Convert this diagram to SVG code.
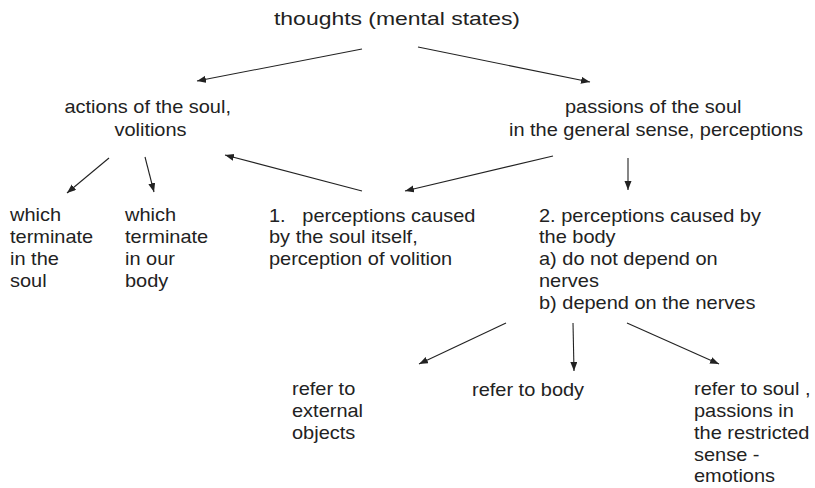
<svg xmlns="http://www.w3.org/2000/svg" width="815" height="488" viewBox="0 0 815 488">
  <style>
    text { font-family: "Liberation Sans", Arial, sans-serif; font-size: 18px; fill: #222; }
    .c { stroke: #222; stroke-width: 1.1; fill: none; marker-end: url(#ah); }
  </style>
  <defs>
    <marker id="ah" markerUnits="userSpaceOnUse" markerWidth="10" markerHeight="8" refX="9" refY="3.5" orient="auto">
      <path d="M0,0 L9,3.5 L0,7 z" fill="#222"/>
    </marker>
  </defs>
  <rect width="815" height="488" fill="#fff"/>

  <g id="thoughts">
    <text x="397" y="25" text-anchor="middle" style="font-size:19px" textLength="246" lengthAdjust="spacingAndGlyphs">thoughts (mental states)</text>
  </g>

  <g id="actions">
    <text transform="translate(150.5,113) scale(1.11,1)" text-anchor="middle">
      <tspan x="0" y="0">actions of the soul,</tspan>
      <tspan x="0" y="23">volitions</tspan>
    </text>
  </g>

  <g id="passions">
    <text transform="translate(656,113) scale(1.11,1)" text-anchor="middle">
      <tspan x="0" y="0">passions of the soul</tspan>
      <tspan x="0" y="23">in the general sense, perceptions</tspan>
    </text>
  </g>

  <g id="terminate-soul">
    <text transform="translate(10,221) scale(1.11,1)">
      <tspan x="0" y="0">which</tspan>
      <tspan x="0" y="22">terminate</tspan>
      <tspan x="0" y="44">in the</tspan>
      <tspan x="0" y="66">soul</tspan>
    </text>
  </g>

  <g id="terminate-body">
    <text transform="translate(125,221) scale(1.11,1)">
      <tspan x="0" y="0">which</tspan>
      <tspan x="0" y="22">terminate</tspan>
      <tspan x="0" y="44">in our</tspan>
      <tspan x="0" y="66">body</tspan>
    </text>
  </g>

  <g id="perceptions-soul">
    <text transform="translate(269,221.5) scale(1.11,1)" xml:space="preserve"><tspan x="0" y="0">1.   perceptions caused</tspan><tspan x="0" y="22">by the soul itself,</tspan><tspan x="0" y="44">perception of volition</tspan></text>
  </g>

  <g id="perceptions-body">
    <text transform="translate(539,221.5) scale(1.11,1)">
      <tspan x="0" y="0">2. perceptions caused by</tspan>
      <tspan x="0" y="22">the body</tspan>
      <tspan x="0" y="44">a) do not depend on</tspan>
      <tspan x="0" y="66">nerves</tspan>
      <tspan x="0" y="88">b) depend on the nerves</tspan>
    </text>
  </g>

  <g id="external">
    <text transform="translate(292,395) scale(1.11,1)">
      <tspan x="0" y="0">refer to</tspan>
      <tspan x="0" y="22">external</tspan>
      <tspan x="0" y="44">objects</tspan>
    </text>
  </g>

  <g id="body">
    <text transform="translate(472,395.5) scale(1.11,1)">
      <tspan x="0" y="0">refer to body</tspan>
    </text>
  </g>

  <g id="soul-emotions">
    <text transform="translate(694,395) scale(1.11,1)">
      <tspan x="0" y="0">refer to soul ,</tspan>
      <tspan x="0" y="22">passions in</tspan>
      <tspan x="0" y="44">the restricted</tspan>
      <tspan x="0" y="66">sense -</tspan>
      <tspan x="0" y="87.5">emotions</tspan>
    </text>
  </g>

  <g id="connectors">
    <line class="c" x1="362" y1="49" x2="197" y2="81"/>
    <line class="c" x1="418" y1="47" x2="590" y2="82"/>
    <line class="c" x1="109" y1="158" x2="67" y2="193"/>
    <line class="c" x1="145" y1="157" x2="154" y2="192"/>
    <line class="c" x1="362" y1="191" x2="225" y2="155"/>
    <line class="c" x1="553" y1="156" x2="405" y2="191"/>
    <line class="c" x1="628" y1="158" x2="628" y2="190"/>
    <line class="c" x1="506" y1="323" x2="419" y2="364"/>
    <line class="c" x1="573" y1="323" x2="574" y2="371"/>
    <line class="c" x1="627" y1="323" x2="719" y2="364"/>
  </g>
</svg>
